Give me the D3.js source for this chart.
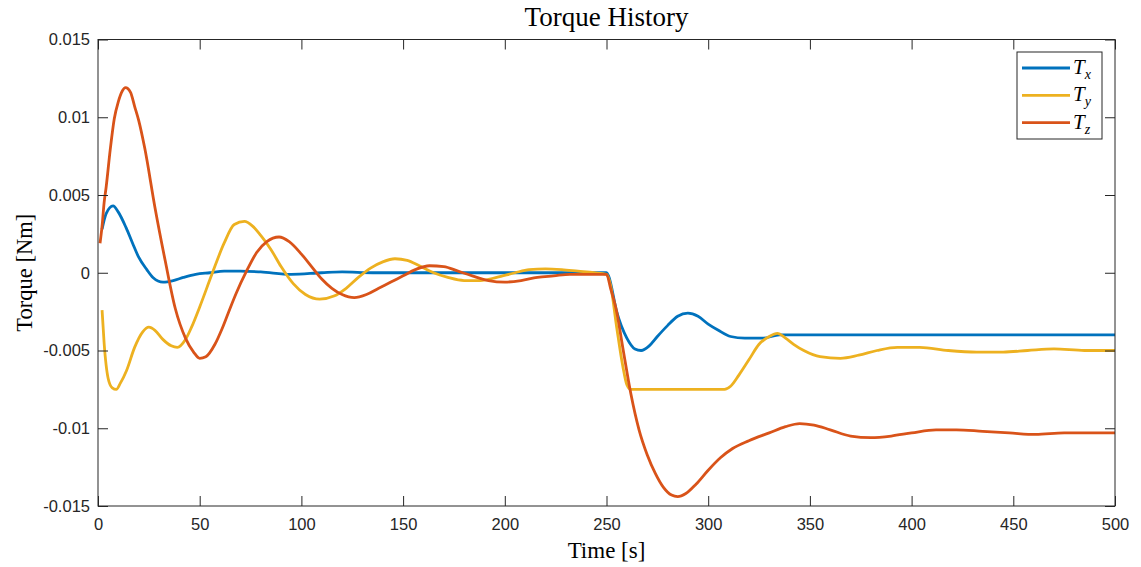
<!DOCTYPE html>
<html>
<head>
<meta charset="utf-8">
<script src="https://cdn.jsdelivr.net/npm/d3@7"></script>
<style>
  html, body { margin: 0; padding: 0; background: #fff; }
  svg { display: block; }
</style>
</head>
<body>
<svg id="chart" width="1141" height="567"></svg>
<script>
// Torque components over time, [time s, torque Nm]
const torqueX = [
  [2,0.0028],[4,0.0038],[7.4,0.0043],[10,0.0039],[13.8,0.0029],[17,0.0019],[20,0.0010],[24,0.0002],
  [27,-0.0003],[32,-0.0006],[37,-0.0005],[42,-0.0003],[48,-0.0001],[55,0.0000],[62,0.0001],[70,0.0001],
  [80,0.00005],[95,-0.0001],[110,0.0000],[120,0.00005],[135,0],[150,0],[200,0],[250,0],
  [251,-0.0002],[255,-0.0025],[260,-0.0042],[264,-0.0049],[267,-0.0050],[271,-0.0047],[275,-0.0041],
  [280,-0.0034],[285,-0.0028],[290,-0.0026],[295,-0.0028],[300,-0.0033],[305,-0.0037],[311,-0.0041],
  [318,-0.0042],[327,-0.0042],[335,-0.0040],[500,-0.0040]
];
const torqueY = [
  [2,-0.0024],[3,-0.0045],[5,-0.0068],[7,-0.0074],[9,-0.0075],[11,-0.0071],[14,-0.0063],[18,-0.0048],
  [22,-0.0038],[25,-0.0035],[28,-0.0037],[32,-0.0043],[36,-0.0047],[39,-0.0048],[43,-0.0043],[46,-0.0035],
  [50,-0.0022],[56,-0.0001],[62,0.0019],[67,0.0031],[72,0.0033],[76,0.0030],[80,0.0024],[85,0.0015],
  [90,0.0004],[96,-0.0007],[102,-0.0014],[109,-0.0017],[116,-0.0015],[122,-0.0010],[128,-0.0003],
  [134,0.0003],[140,0.0007],[146,0.0009],[152,0.0008],[158,0.00045],[165,0.0000],[172,-0.0003],
  [180,-0.0005],[188,-0.0005],[196,-0.0003],[205,0.0000],[212,0.0002],[220,0.00025],[228,0.0002],
  [236,0.0001],[244,0.0000],[250,-0.0001],[252,-0.0008],[255,-0.0035],[258,-0.0060],[260,-0.0072],
  [262,-0.0075],[308,-0.0075],[311,-0.0073],[315,-0.0066],[320,-0.0056],[325,-0.0046],[330,-0.0041],
  [334,-0.0039],[338,-0.0042],[342,-0.0046],[347,-0.0050],[355,-0.0054],[365,-0.0055],[374,-0.0053],
  [383,-0.0050],[393,-0.0048],[404,-0.0048],[418,-0.0050],[432,-0.0051],[445,-0.0051],[457,-0.0050],
  [470,-0.0049],[485,-0.0050],[500,-0.0050]
];
const torqueZ = [
  [1,0.0019],[2,0.0030],[3,0.0045],[4,0.0055],[6,0.0079],[8,0.0099],[10,0.0110],[12,0.0117],
  [13.5,0.0119],[16,0.0116],[18,0.0107],[20,0.0098],[23,0.0080],[28,0.0042],[33,0.0008],[38,-0.0023],
  [43,-0.0042],[47,-0.0051],[50,-0.0055],[53,-0.0054],[57.5,-0.0046],[61,-0.0036],[64,-0.0026],
  [68,-0.0013],[73,0.0001],[78,0.0013],[83,0.0020],[89,0.0023],[94,0.0020],[100,0.0012],[105,0.0004],
  [110,-0.0004],[115,-0.0010],[120,-0.0014],[126,-0.0016],[132,-0.0014],[138,-0.0010],[144,-0.0006],
  [150,-0.0002],[156,0.0002],[163,0.00045],[170,0.0004],[177,0.0001],[184,-0.0002],[192,-0.0005],
  [200,-0.0006],[208,-0.0005],[216,-0.0003],[224,-0.0002],[232,-0.0001],[240,-0.0001],[250,-0.0001],
  [252,-0.0010],[255,-0.0025],[258,-0.0048],[262,-0.0078],[266,-0.0101],[270,-0.0117],[274,-0.0129],
  [278,-0.0138],[282,-0.0143],[285,-0.0144],[289,-0.0142],[294,-0.0136],[300,-0.0127],[306,-0.0119],
  [312,-0.0113],[320,-0.0108],[330,-0.0103],[338,-0.0099],[345,-0.0097],[352,-0.0098],[360,-0.0101],
  [370,-0.0105],[380,-0.0106],[390,-0.0105],[400,-0.0103],[412,-0.0101],[422,-0.0101],[435,-0.0102],
  [448,-0.0103],[461,-0.0104],[475,-0.0103],[488,-0.0103],[500,-0.0103]
];

const seriesNames = ["x", "y", "z"];
const seriesColors = ["#0072BD", "#EDB120", "#D95319"];
const xTicks = [0, 50, 100, 150, 200, 250, 300, 350, 400, 450, 500];
const yTicks = [0.015, 0.01, 0.005, 0, -0.005, -0.01, -0.015];

const svg = d3.select("#chart");
const plotLeft = 98, plotRight = 1115, plotTop = 39.5, plotBottom = 506;

const x = d3.scaleLinear().domain([0, 500]).range([plotLeft, plotRight]);
const y = d3.scaleLinear().domain([-0.015, 0.015]).range([plotBottom, plotTop]);

const axisColor = "#262626";
const tickFont = "'Liberation Sans', Arial, Helvetica, sans-serif";
const serif = "'Liberation Serif', 'Times New Roman', serif";

// clip region for the data lines
svg.append("defs").append("clipPath").attr("id", "plotClip")
  .append("rect").attr("x", plotLeft).attr("y", plotTop)
  .attr("width", plotRight - plotLeft).attr("height", plotBottom - plotTop);

const line = d3.line()
  .x(d => x(d[0]))
  .y(d => y(d[1]))
  .curve(d3.curveMonotoneX);

const allSeries = [torqueX, torqueY, torqueZ];
const plot = svg.append("g").attr("clip-path", "url(#plotClip)");
allSeries.forEach((s, i) => {
  plot.append("path")
    .datum(s)
    .attr("d", line)
    .attr("fill", "none")
    .attr("stroke", seriesColors[i])
    .attr("stroke-width", 2.8)
    .attr("stroke-linejoin", "round");
});

// axes: ticks point inward on all four sides
const tickLen = 10;
const xAxisB = d3.axisBottom(x).tickValues(xTicks).tickSizeInner(-tickLen).tickSizeOuter(0).tickPadding(12)
  .tickFormat(d3.format("d"));
const xAxisT = d3.axisTop(x).tickValues(xTicks).tickSizeInner(-tickLen).tickSizeOuter(0).tickFormat("");
const yAxisL = d3.axisLeft(y).tickValues(yTicks).tickSizeInner(-tickLen).tickSizeOuter(0).tickPadding(8)
  .tickFormat(d => d === 0 ? "0" : String(+d.toFixed(3)));
const yAxisR = d3.axisRight(y).tickValues(yTicks).tickSizeInner(-tickLen).tickSizeOuter(0).tickFormat("");

function styleAxis(g) {
  g.select(".domain").remove();
  g.selectAll(".tick line").attr("stroke", axisColor).attr("stroke-width", 1);
  g.selectAll(".tick text").attr("fill", axisColor).style("font-family", tickFont).style("font-size", "16.5px");
}

svg.append("g").attr("transform", `translate(0,${plotBottom})`).call(xAxisB).call(styleAxis);
svg.append("g").attr("transform", `translate(0,${plotTop})`).call(xAxisT).call(styleAxis);
svg.append("g").attr("transform", `translate(${plotLeft},0)`).call(yAxisL).call(styleAxis);
svg.append("g").attr("transform", `translate(${plotRight},0)`).call(yAxisR).call(styleAxis);

// box
svg.append("rect")
  .attr("x", plotLeft).attr("y", plotTop).attr("width", plotRight - plotLeft).attr("height", plotBottom - plotTop)
  .attr("fill", "none").attr("stroke", axisColor).attr("stroke-width", 1);

// title and labels
const midX = (plotLeft + plotRight) / 2;
svg.append("text").attr("x", midX).attr("y", 26).attr("text-anchor", "middle")
  .style("font-family", serif).style("font-size", "27px").attr("fill", "#000").text("Torque History");
svg.append("text").attr("x", midX).attr("y", 558).attr("text-anchor", "middle")
  .style("font-family", serif).style("font-size", "23px").attr("fill", "#000").text("Time [s]");
svg.append("text").attr("transform", `translate(32,${(plotTop + plotBottom) / 2}) rotate(-90)`)
  .attr("text-anchor", "middle")
  .style("font-family", serif).style("font-size", "22.5px").attr("fill", "#000").text("Torque [Nm]");

// legend
const lg = svg.append("g");
lg.append("rect").attr("x", 1017).attr("y", 52).attr("width", 85).attr("height", 87)
  .attr("fill", "#fff").attr("stroke", axisColor).attr("stroke-width", 1);
seriesNames.forEach((n, i) => {
  const yy = 68 + i * 27.3;
  lg.append("line").attr("x1", 1022).attr("x2", 1070).attr("y1", yy).attr("y2", yy)
    .attr("stroke", seriesColors[i]).attr("stroke-width", 2.8);
  const t = lg.append("text").attr("x", 1073).attr("y", yy + 6)
    .style("font-family", serif).style("font-style", "italic").style("font-size", "21px").attr("fill", "#000");
  t.append("tspan").text("T");
  t.append("tspan").attr("dy", 5).style("font-size", "14px").text(n);
});
</script>
</body>
</html>
